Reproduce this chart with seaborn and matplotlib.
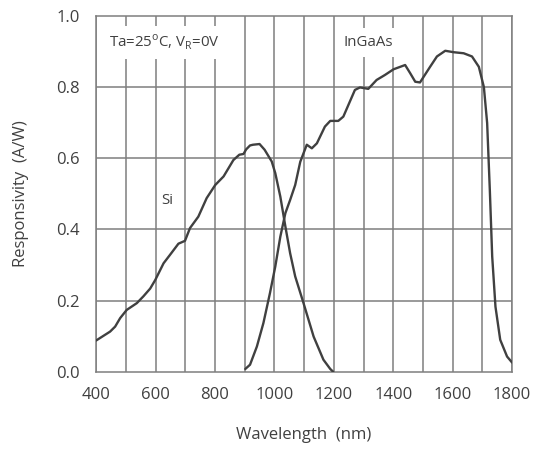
import matplotlib
matplotlib.use("Agg")
import matplotlib.pyplot as plt
import seaborn as sns
import pandas as pd

si_wl = [400, 447, 464, 481, 503, 537, 559, 582, 599, 627, 649, 677, 699, 716, 744, 772, 801, 829,
         862, 882, 896, 905, 918, 928, 950, 967, 991, 1003, 1020, 1037, 1053, 1070, 1098, 1132,
         1165, 1188, 1198]
si_r = [0.088, 0.113, 0.127, 0.151, 0.174, 0.193, 0.212, 0.234, 0.258, 0.305, 0.329, 0.360, 0.368,
        0.404, 0.436, 0.488, 0.525, 0.549, 0.595, 0.610, 0.612, 0.625, 0.636, 0.638, 0.640, 0.624,
        0.591, 0.558, 0.492, 0.408, 0.333, 0.268, 0.193, 0.099, 0.034, 0.008, 0.0]

ingaas_wl = [902, 918, 941, 963, 985, 1003, 1020, 1037, 1053, 1070, 1087, 1109, 1126, 1143, 1170,
             1188, 1215, 1232, 1271, 1288, 1316, 1344, 1372, 1401, 1440, 1457, 1474, 1490, 1524,
             1547, 1575, 1603, 1637, 1665, 1688, 1705, 1716, 1725, 1733, 1744, 1760, 1783, 1800]
ingaas_r = [0.008, 0.020, 0.071, 0.137, 0.221, 0.296, 0.380, 0.446, 0.483, 0.525, 0.590, 0.638,
            0.628, 0.642, 0.689, 0.705, 0.705, 0.717, 0.792, 0.799, 0.795, 0.820, 0.834, 0.850,
            0.862, 0.839, 0.815, 0.813, 0.857, 0.886, 0.902, 0.898, 0.895, 0.886, 0.857, 0.800,
            0.699, 0.511, 0.324, 0.183, 0.090, 0.043, 0.026]

x_ticks = [400, 600, 800, 1000, 1200, 1400, 1600, 1800]
y_ticks = [0.0, 0.2, 0.4, 0.6, 0.8, 1.0]

sns.set_style("white")
plt.rcParams['font.family'] = ['Open Sans', 'DejaVu Sans']

df = pd.concat([
    pd.DataFrame({"wl": si_wl, "r": si_r, "mat": "Si"}),
    pd.DataFrame({"wl": ingaas_wl, "r": ingaas_r, "mat": "InGaAs"}),
])

fig = plt.figure(figsize=(5.34, 4.54), dpi=100)
ax = fig.add_axes([0.18, 0.181, 0.779, 0.784])

txt = "#404040"
grid = "#7f7f7f"
for x in range(400, 1801, 100):
    ax.axvline(x, color=grid, lw=1.1, zorder=1)
for y in [0.2, 0.4, 0.6, 0.8]:
    ax.axhline(y, color=grid, lw=1.1, zorder=1)

sns.lineplot(data=df, x="wl", y="r", units="mat", estimator=None, sort=False,
             color="#404040", lw=1.7, ax=ax, zorder=4, solid_joinstyle="round")

ax.set_xlim(400, 1800)
ax.set_ylim(0, 1.0)
ax.set_xticks(x_ticks)
ax.set_yticks(y_ticks)
ax.set_yticklabels([f"{v:.1f}" for v in y_ticks])
ax.tick_params(axis="both", direction="out", length=4, width=1, color=grid,
               labelsize=12, labelcolor=txt)
ax.tick_params(axis="y", pad=8)
ax.tick_params(axis="x", pad=7)
for s in ax.spines.values():
    s.set_color(grid)
    s.set_linewidth(1.1)
ax.set_xlabel("Wavelength  (nm)", fontsize=12, color=txt, labelpad=17)
ax.set_ylabel("Responsivity  (A/W)", fontsize=12, color=txt, labelpad=19)

box = dict(facecolor="white", edgecolor="none", pad=5)
ax.text(445, 0.925, "Ta=25$^\\mathregular{o}$C, V$_\\mathregular{R}$=0V", fontsize=10.8,
        color=txt, va="center", ha="left", bbox=box, zorder=5)
ax.text(1232, 0.925, "InGaAs", fontsize=10.8, color=txt, va="center", ha="left",
        bbox=box, zorder=5)
ax.text(618, 0.48, "Si", fontsize=10.8, color=txt, va="center", ha="left",
        bbox=dict(facecolor="white", edgecolor="none", pad=2), zorder=5)

fig.savefig("out.png", dpi=100)
